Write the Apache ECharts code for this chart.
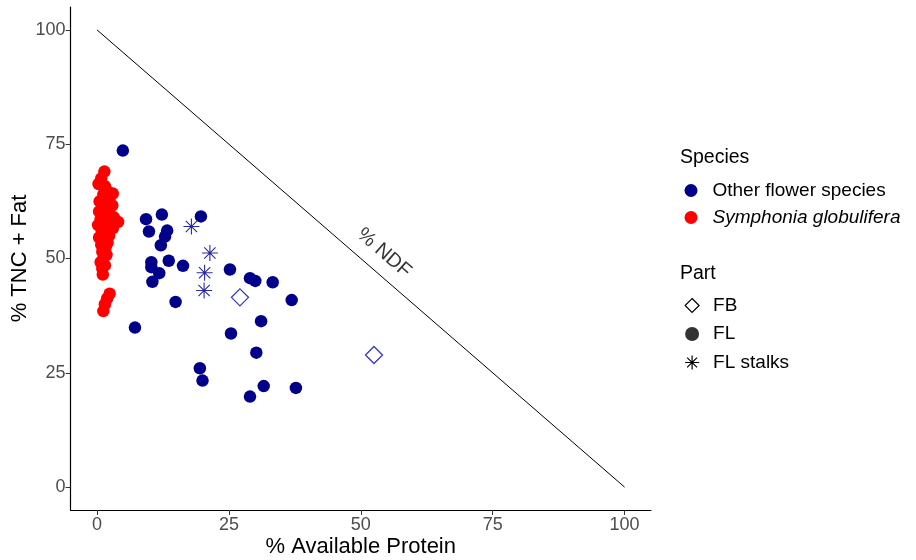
<!DOCTYPE html>
<html>
<head>
<meta charset="utf-8">
<script src="https://cdn.jsdelivr.net/npm/echarts@6/dist/echarts.min.js"></script>
<style>html,body{margin:0;padding:0;background:#fff}#c{width:916px;height:560px}</style>
</head>
<body>
<div id="c"></div>
<script>
// ---- data ----
const xTicks = [0, 25, 50, 75, 100];
const yTicks = [0, 25, 50, 75, 100];
const otherFL = [
  [4.9,73.6],[9.3,58.6],[12.3,59.6],[19.7,59.2],[9.85,55.9],[13.3,56.1],[12.9,54.8],[12.1,52.9],
  [10.3,49.2],[10.3,48.1],[11.8,46.8],[13.6,49.5],[16.3,48.4],[10.5,44.9],[25.2,47.6],[29.0,45.7],
  [30.0,45.1],[33.3,44.8],[36.9,40.9],[14.9,40.5],[7.2,34.9],[31.1,36.3],[25.4,33.6],[30.2,29.4],
  [19.5,26.0],[20.0,23.3],[31.6,22.1],[37.7,21.7],[29.0,19.8]
];
const symphoniaFL = [
  [1.4,69.0],[0.8,67.5],[0.3,66.3],[1.5,65.8],[2.0,64.7],[3.0,64.2],[1.2,64.0],[2.4,63.2],
  [0.5,62.5],[1.8,62.0],[2.9,61.6],[1.0,61.0],[0.4,60.3],[2.2,60.0],[1.5,59.3],[3.2,59.0],
  [0.7,58.6],[2.6,58.3],[4.0,58.0],[1.1,57.8],[0.2,57.3],[1.9,57.0],[3.0,56.6],[0.9,56.0],
  [1.6,55.5],[2.3,55.0],[0.4,54.6],[1.3,54.0],[2.0,53.4],[0.8,53.0],[1.6,52.3],[1.0,51.5],
  [1.8,50.8],[1.2,50.0],[0.7,49.2],[1.5,48.5],[1.0,47.8],[1.1,46.5],[2.4,42.3],[1.9,41.2],
  [1.5,40.0],[1.2,38.5]
];
const otherStalks = [[17.9,57.0],[21.4,51.2],[20.4,46.9],[20.3,43.0]];
const otherFB = [[27.1,41.5],[52.5,28.9]];
const ndfLine = [[0,100],[100,0]];
const ndfLabelAt = [54.4, 51.2];

// ---- styles ----
const BLUE = '#00008B', RED = '#FF0000';
const FONT = 'Liberation Sans, Arial, sans-serif';
const STAR = 'path://M0,-10L0,10M-10,0L10,0M-7.07,-7.07L7.07,7.07M-7.07,7.07L7.07,-7.07';

const chart = echarts.init(document.getElementById('c'), null, {renderer: 'canvas'});
const axisCommon = {
  type: 'value', min: -5, max: 105,
  splitLine: {show: false},
  nameMoveOverlap: false,
  axisLine: {show: true, onZero: false, lineStyle: {color: '#000', width: 1.2}},
  axisTick: {show: true, length: 5, lineStyle: {color: '#333'}, customValues: xTicks},
  axisLabel: {color: '#4D4D4D', fontSize: 18, fontFamily: FONT, customValues: xTicks, margin: 6},
  nameTextStyle: {color: '#000', fontSize: 22, fontFamily: FONT}
};
chart.setOption({
  animation: false,
  textStyle: {fontFamily: FONT},
  grid: {left: 70.6, right: 265, top: 7, bottom: 50, outerBoundsMode: 'none', containLabel: false},
  title: [
    {text: 'Species', left: 675, top: 143, textStyle: {fontSize: 19.5, fontWeight: 'normal', color: '#000', fontFamily: FONT}},
    {text: 'Part', left: 675, top: 259, textStyle: {fontSize: 19.5, fontWeight: 'normal', color: '#000', fontFamily: FONT}}
  ],
  legend: [
    {
      orient: 'vertical', left: 679.5, top: 176, itemWidth: 13, itemHeight: 13, itemGap: 8,
      textStyle: {fontSize: 19, color: '#000', fontFamily: FONT, padding: [0, 0, 0, 10]},
      selectedMode: false,
      data: [
        {name: 'Other flower species', icon: 'circle'},
        {name: 'Symphonia globulifera', icon: 'circle', textStyle: {fontStyle: 'italic'}}
      ]
    },
    {
      orient: 'vertical', left: 679.5, top: 291, itemWidth: 14, itemHeight: 14, itemGap: 9.5,
      textStyle: {fontSize: 19, color: '#000', fontFamily: FONT, padding: [0, 0, 0, 9]},
      selectedMode: false,
      data: [
        {name: 'FB', icon: 'diamond', itemStyle: {color: '#fff', borderColor: '#000', borderWidth: 1.2}},
        {name: 'FL', icon: 'circle', itemStyle: {color: '#000'}},
        {name: 'FL stalks', icon: STAR, itemStyle: {color: 'transparent', borderColor: '#000', borderWidth: 1.2}}
      ]
    }
  ],
  xAxis: Object.assign({}, axisCommon, {
    name: '% Available Protein', nameLocation: 'middle', nameGap: 26
  }),
  yAxis: Object.assign({}, axisCommon, {
    axisTick: {show: true, length: 5, lineStyle: {color: '#333'}, customValues: yTicks},
    axisLabel: {color: '#4D4D4D', fontSize: 18, fontFamily: FONT, customValues: yTicks, margin: 5},
    name: '% TNC + Fat', nameLocation: 'middle', nameGap: 40
  }),
  series: [
    {
      name: 'NDF', type: 'line', data: ndfLine, symbol: 'none', silent: true,
      lineStyle: {color: '#000', width: 1}, z: 1
    },
    {
      name: 'NDF label', type: 'scatter', data: [ndfLabelAt], symbolSize: 0, silent: true,
      label: {show: true, formatter: '% NDF', position: 'inside', rotate: -41, fontSize: 20, color: '#000', fontFamily: FONT}
    },
    {
      name: 'Other flower species', type: 'scatter', data: otherFL, symbol: 'circle', symbolSize: 12.5,
      itemStyle: {color: BLUE, opacity: 1}, z: 3
    },
    {
      name: 'Symphonia globulifera', type: 'scatter', data: symphoniaFL, symbol: 'circle', symbolSize: 12.5,
      itemStyle: {color: RED, opacity: 1}, z: 3
    },
    {
      name: 'FL stalks', type: 'scatter', data: otherStalks, symbol: STAR, symbolSize: 16,
      itemStyle: {color: 'transparent', borderColor: '#2a2aa0', borderWidth: 1.1, opacity: 1}, z: 4
    },
    {
      name: 'FB', type: 'scatter', data: otherFB, symbol: 'diamond', symbolSize: 17,
      itemStyle: {color: 'transparent', borderColor: '#3a3ab0', borderWidth: 1.3, opacity: 1}, z: 4
    },
    {
      name: 'FL', type: 'scatter', data: [], symbol: 'circle', itemStyle: {color: '#000'}
    }
  ]
});
</script>
</body>
</html>
